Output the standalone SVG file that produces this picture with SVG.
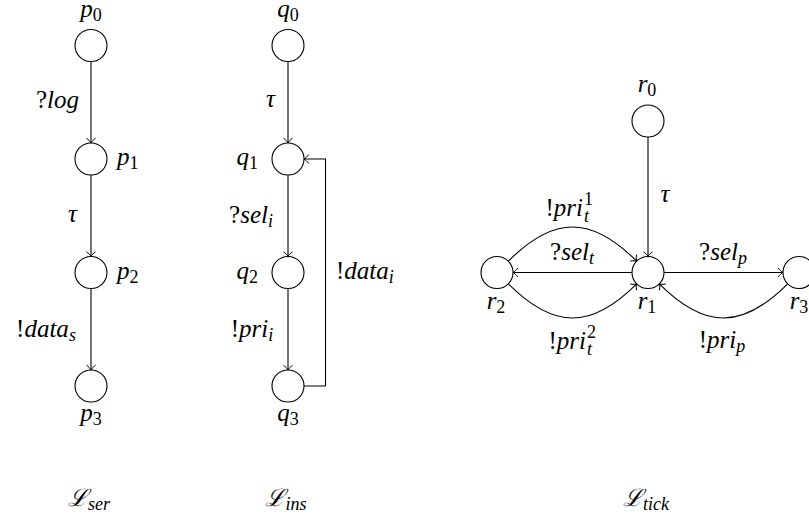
<svg xmlns="http://www.w3.org/2000/svg" width="809" height="519" viewBox="0 0 809 519">
<style>
  .node { fill: #fff; stroke: #000; stroke-width: 1.1; }
  .edge { fill: none; stroke: #000; stroke-width: 1.1; marker-end: url(#tip); }
</style>
<defs>
  <marker id="tip" markerUnits="userSpaceOnUse" markerWidth="12" markerHeight="12" refX="0" refY="0" orient="auto" overflow="visible">
    <path d="M -4.5 -4.2 C -3.5 -2.5 -1.2 -0.6 0 0 C -1.2 0.6 -3.5 2.5 -4.5 4.2" fill="none" stroke="#000" stroke-width="1" stroke-linecap="round"/>
  </marker>
</defs>
<rect width="809" height="519" fill="#fff"/>

<g id="connectors">
  <path class="edge" d="M 91 61.5 V 143"/>
  <path class="edge" d="M 91 175 V 256.5"/>
  <path class="edge" d="M 91 288.5 V 370"/>
  <path class="edge" d="M 288 61.5 V 143"/>
  <path class="edge" d="M 288 175 V 256.5"/>
  <path class="edge" d="M 288 288.5 V 370"/>
  <path class="edge" d="M 304 386 H 325.5 V 159 H 304"/>
  <path class="edge" d="M 648 137 V 256.5"/>
  <path class="edge" d="M 632 272.5 H 513"/>
  <path class="edge" d="M 664 272.5 H 783"/>
  <path class="edge" d="M 508.3 261.2 C 553.9 215.6 591.1 215.6 636.7 261.2"/>
  <path class="edge" d="M 508.3 283.8 C 553.9 329.4 591.1 329.4 636.7 283.8"/>
  <path class="edge" d="M 787.7 283.8 C 742.1 329.4 704.9 329.4 659.3 283.8"/>
</g>

<g id="edge-labels">
  <text x="57.5" y="108" font-size="25" font-family="Liberation Serif" font-style="italic" text-anchor="middle"><tspan font-style="normal">?</tspan>log</text>
  <text x="72.5" y="222" font-size="25" font-family="Liberation Serif" font-style="italic" text-anchor="middle">τ</text>
  <text x="46" y="337" font-size="25" font-family="Liberation Serif" font-style="italic" text-anchor="middle"><tspan font-style="normal">!</tspan>data<tspan font-size="18" dy="4">s</tspan></text>

  <text x="270.5" y="107" font-size="25" font-family="Liberation Serif" font-style="italic" text-anchor="middle">τ</text>
  <text x="251" y="223" font-size="25" font-family="Liberation Serif" font-style="italic" text-anchor="middle"><tspan font-style="normal">?</tspan>sel<tspan font-size="18" dy="4">i</tspan></text>
  <text x="252" y="337" font-size="25" font-family="Liberation Serif" font-style="italic" text-anchor="middle"><tspan font-style="normal">!</tspan>pri<tspan font-size="18" dy="4">i</tspan></text>
  <text x="336" y="279" font-size="25" font-family="Liberation Serif" font-style="italic"><tspan font-style="normal">!</tspan>data<tspan font-size="18" dy="4">i</tspan></text>

  <text x="665" y="202" font-size="25" font-family="Liberation Serif" font-style="italic" text-anchor="middle">τ</text>
  <text x="583" y="216" font-size="25" font-family="Liberation Serif" font-style="italic" text-anchor="end"><tspan font-style="normal">!</tspan>pri</text>
  <text x="584" y="205" font-size="18" font-family="Liberation Serif">1</text>
  <text x="584" y="222" font-size="18" font-family="Liberation Serif" font-style="italic">t</text>
  <text x="572" y="260" font-size="25" font-family="Liberation Serif" font-style="italic" text-anchor="middle"><tspan font-style="normal">?</tspan>sel<tspan font-size="18" dy="4">t</tspan></text>
  <text x="723" y="260" font-size="25" font-family="Liberation Serif" font-style="italic" text-anchor="middle"><tspan font-style="normal">?</tspan>sel<tspan font-size="18" dy="4">p</tspan></text>
  <text x="586" y="349" font-size="25" font-family="Liberation Serif" font-style="italic" text-anchor="end"><tspan font-style="normal">!</tspan>pri</text>
  <text x="587" y="338" font-size="18" font-family="Liberation Serif">2</text>
  <text x="587" y="355" font-size="18" font-family="Liberation Serif" font-style="italic">t</text>
  <text x="722" y="348" font-size="25" font-family="Liberation Serif" font-style="italic" text-anchor="middle"><tspan font-style="normal">!</tspan>pri<tspan font-size="18" dy="4">p</tspan></text>
</g>

<g id="p0"><circle class="node" cx="91" cy="45.5" r="16"/><text x="91" y="17" font-size="25" font-family="Liberation Serif" font-style="italic" text-anchor="middle">p<tspan font-size="18" font-style="normal" dy="4">0</tspan></text></g>
<g id="p1"><circle class="node" cx="91" cy="159" r="16"/><text x="117" y="165" font-size="25" font-family="Liberation Serif" font-style="italic">p<tspan font-size="18" font-style="normal" dy="4">1</tspan></text></g>
<g id="p2"><circle class="node" cx="91" cy="272.5" r="16"/><text x="117" y="279" font-size="25" font-family="Liberation Serif" font-style="italic">p<tspan font-size="18" font-style="normal" dy="4">2</tspan></text></g>
<g id="p3"><circle class="node" cx="91" cy="386" r="16"/><text x="91" y="421" font-size="25" font-family="Liberation Serif" font-style="italic" text-anchor="middle">p<tspan font-size="18" font-style="normal" dy="4">3</tspan></text></g>

<g id="q0"><circle class="node" cx="288" cy="45.5" r="16"/><text x="288" y="17" font-size="25" font-family="Liberation Serif" font-style="italic" text-anchor="middle">q<tspan font-size="18" font-style="normal" dy="4">0</tspan></text></g>
<g id="q1"><circle class="node" cx="288" cy="159" r="16"/><text x="258" y="165" font-size="25" font-family="Liberation Serif" font-style="italic" text-anchor="end">q<tspan font-size="18" font-style="normal" dy="4">1</tspan></text></g>
<g id="q2"><circle class="node" cx="288" cy="272.5" r="16"/><text x="258" y="279" font-size="25" font-family="Liberation Serif" font-style="italic" text-anchor="end">q<tspan font-size="18" font-style="normal" dy="4">2</tspan></text></g>
<g id="q3"><circle class="node" cx="288" cy="386" r="16"/><text x="288" y="421" font-size="25" font-family="Liberation Serif" font-style="italic" text-anchor="middle">q<tspan font-size="18" font-style="normal" dy="4">3</tspan></text></g>

<g id="r0"><circle class="node" cx="648" cy="121" r="16"/><text x="647" y="92" font-size="25" font-family="Liberation Serif" font-style="italic" text-anchor="middle">r<tspan font-size="18" font-style="normal" dy="4">0</tspan></text></g>
<g id="r1"><circle class="node" cx="648" cy="272.5" r="16"/><text x="647" y="309" font-size="25" font-family="Liberation Serif" font-style="italic" text-anchor="middle">r<tspan font-size="18" font-style="normal" dy="4">1</tspan></text></g>
<g id="r2"><circle class="node" cx="497" cy="272.5" r="16"/><text x="496" y="309" font-size="25" font-family="Liberation Serif" font-style="italic" text-anchor="middle">r<tspan font-size="18" font-style="normal" dy="4">2</tspan></text></g>
<g id="r3"><circle class="node" cx="799" cy="272.5" r="16"/><text x="799" y="309" font-size="25" font-family="Liberation Serif" font-style="italic" text-anchor="middle">r<tspan font-size="18" font-style="normal" dy="4">3</tspan></text></g>

<g id="captions">
  <text x="89" y="506" font-size="25" font-family="Liberation Serif" font-style="italic" text-anchor="middle"><tspan font-family="DejaVu Serif" font-size="24">ℒ</tspan><tspan font-size="18" dy="4">ser</tspan></text>
  <text x="286" y="506" font-size="25" font-family="Liberation Serif" font-style="italic" text-anchor="middle"><tspan font-family="DejaVu Serif" font-size="24">ℒ</tspan><tspan font-size="18" dy="4">ins</tspan></text>
  <text x="646" y="506" font-size="25" font-family="Liberation Serif" font-style="italic" text-anchor="middle"><tspan font-family="DejaVu Serif" font-size="24">ℒ</tspan><tspan font-size="18" dy="4">tick</tspan></text>
</g>
</svg>
